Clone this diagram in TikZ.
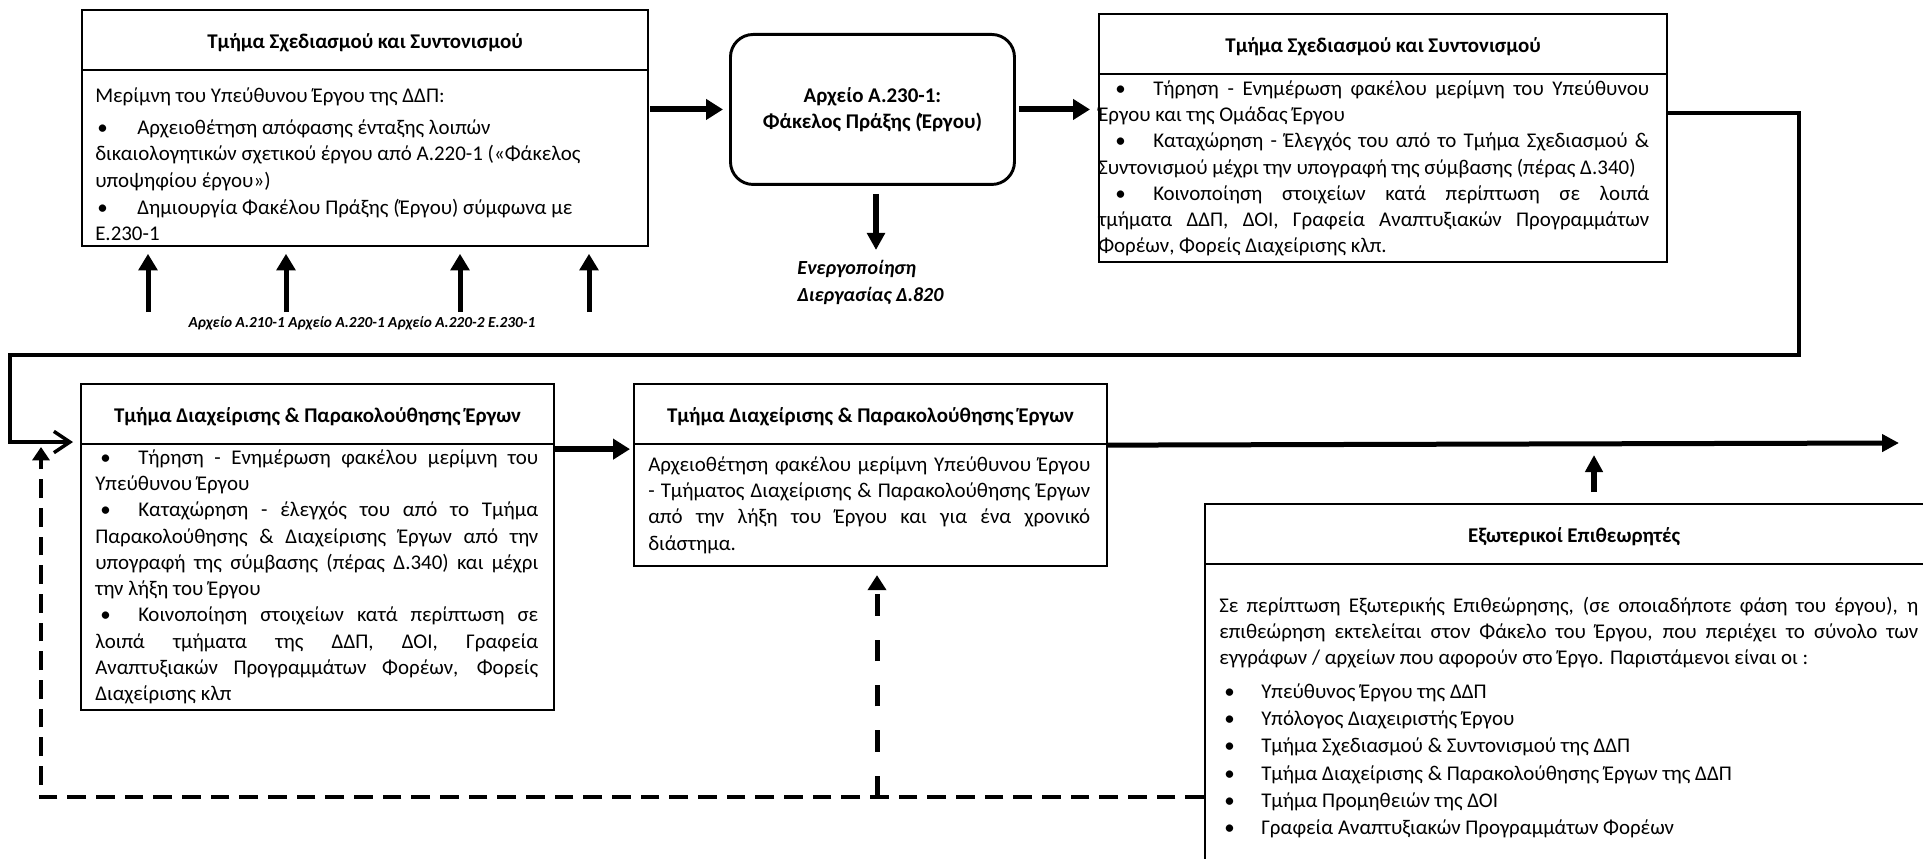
\documentclass[tikz,border=0pt]{standalone}
\usepackage{fontspec}
\setmainfont{Carlito}
\usetikzlibrary{arrows.meta}
\newcommand{\bfnt}{\fontsize{15.7pt}{19.7pt}\selectfont}
\newcommand{\hfnt}{\fontsize{15.7pt}{19.5pt}\selectfont\bfseries}
\newcommand{\bt}[2]{\makebox[#2][l]{\hspace*{#1}\textbullet}}
\newcommand{\jl}[1]{\hbox to\hsize{\strut#1}}
\newcommand{\nl}[1]{\hbox{\strut#1}}
\begin{document}
\begin{tikzpicture}[x=0.75pt,y=-0.75pt,
  frame/.style={draw,line width=1.6pt,anchor=north west,inner sep=0pt},
  hdr/.style={frame,align=center,font=\hfnt,text height=12.8pt,text depth=0pt},
  txt/.style={anchor=north west,inner sep=0pt,font=\bfnt},
  fat/.style={line width=4.5pt,-{Triangle[length=12.75pt,width=15pt]}},
  upar/.style={line width=3.75pt,-{Triangle[length=12.5pt,width=14pt]}},
  longar/.style={line width=3.75pt,-{Triangle[length=12.75pt,width=12.75pt]}},
  conn/.style={line width=2.6pt},
  dsh/.style={line width=3.5pt,dash pattern=on 14pt off 7.5pt},
  dshv/.style={line width=3.75pt,dash pattern=on 16pt off 18pt}]
\useasboundingbox (0,0) rectangle (1923,859);
\fill[white] (0,0) rectangle (1923,859);
\clip (0,0) rectangle (1923,859);

% ---------- Box 1
\node[hdr,minimum width=424.5pt,minimum height=45pt] (h1) at (81,9) {Τμήμα Σχεδιασμού και Συντονισμού};
\node[frame,minimum width=424.5pt,minimum height=132pt] (b1) at (81,69) {};
\node[txt] (t1) at (95,83.6) {\vtop{\hsize=400pt
\nl{Μερίμνη του Υπεύθυνου Έργου της ΔΔΠ:}
\vskip4.5pt
\nl{\bt{1.5pt}{31.5pt}Αρχειοθέτηση απόφασης ένταξης λοιπών}
\nl{δικαιολογητικών σχετικού έργου από Α.220-1 («Φάκελος}
\nl{υποψηφίου έργου»)}
\vskip1pt
\nl{\bt{1.5pt}{31.5pt}Δημιουργία Φακέλου Πράξης (Έργου) σύμφωνα με}
\nl{Ε.230-1}}};

% inputs below box 1
\foreach \xx/\nm in {148/u1,286/u2,460/u3,589/u4}{
  \coordinate (\nm) at (\xx,312);
  \draw[upar,shorten >=5pt] (\nm) -- (\nm |- b1.south);
}
\node[font=\fontsize{11.5pt}{13pt}\selectfont\bfseries\itshape,inner sep=0pt] (lbl) at (362,323) {Αρχείο Α.210-1 Αρχείο Α.220-1 Αρχείο Α.220-2 Ε.230-1};

% ---------- rounded box
\node[draw,line width=2.2pt,rounded corners=17pt,minimum width=213pt,minimum height=112.5pt,anchor=north west,align=center,font=\hfnt] (r) at (729,33) {Αρχείο Α.230-1:\\Φάκελος Πράξης (Έργου)};
\draw[fat,shorten <=1pt,shorten >=4.5pt] (b1.east |- r.west) -- (r.west);

% activation
\node[anchor=north west,inner sep=0pt,align=left,font=\fontsize{15pt}{20.25pt}\selectfont\bfseries\itshape] (act) at (797,255) {\strut Ενεργοποίηση\\Διεργασίας Δ.820};
\coordinate (dtip) at (876,250);
\draw[line width=4.5pt,-{Triangle[length=12.75pt,width=13pt]}] (r.south -| dtip) ++(0,8) -- (dtip);

% ---------- Box 3
\node[hdr,minimum width=426pt,minimum height=45pt] (h3) at (1098,13) {Τμήμα Σχεδιασμού και Συντονισμού};
\node[frame,minimum width=426pt,minimum height=141pt] (b3) at (1098,73) {};
\node[txt] (t3) at (1098,76.6) {\vtop{\hsize=413.25pt
\jl{\bt{12.75pt}{41.25pt}Τήρηση - Ενημέρωση φακέλου μερίμνη του Υπεύθυνου}
\nl{Έργου και της Ομάδας Έργου}
\jl{\bt{12.75pt}{41.25pt}Καταχώρηση - Έλεγχός του από το Τμήμα Σχεδιασμού \&}
\nl{Συντονισμού μέχρι την υπογραφή της σύμβασης (πέρας Δ.340)}
\jl{\bt{12.75pt}{41.25pt}Κοινοποίηση στοιχείων κατά περίπτωση σε λοιπά}
\jl{τμήματα ΔΔΠ, ΔΟΙ, Γραφεία Αναπτυξιακών Προγραμμάτων}
\nl{Φορέων, Φορείς Διαχείρισης κλπ.}}};
\draw[fat,shorten <=2.25pt,shorten >=6pt] (r.east) -- (h3.west |- r.east);

% ---------- Box 4
\node[hdr,minimum width=354.75pt,minimum height=45pt] (h4) at (80,383) {Τμήμα Διαχείρισης \& Παρακολούθησης Έργων};
\node[frame,minimum width=354.75pt,minimum height=199.5pt] (b4) at (80,443) {};
\node[txt] (t4) at (95,445.6) {\vtop{\hsize=332.25pt
\jl{\bt{3.75pt}{32.25pt}Τήρηση - Ενημέρωση φακέλου μερίμνη του}
\nl{Υπεύθυνου Έργου}
\jl{\bt{3.75pt}{32.25pt}Καταχώρηση - έλεγχός του από το Τμήμα}
\jl{Παρακολούθησης \& Διαχείρισης Έργων από την}
\jl{υπογραφή της σύμβασης (πέρας Δ.340) και μέχρι}
\nl{την λήξη του Έργου}
\jl{\bt{3.75pt}{32.25pt}Κοινοποίηση στοιχείων κατά περίπτωση σε}
\jl{λοιπά τμήματα της ΔΔΠ, ΔΟΙ, Γραφεία}
\jl{Αναπτυξιακών Προγραμμάτων Φορέων, Φορείς}
\nl{Διαχείρισης κλπ}}};

% connector from box 3 to box 4
\coordinate (k0) at (1799,113);
\coordinate (k1) at (1799,355);
\coordinate (k2) at (10,355);
\coordinate (k3) at (10,442);
\coordinate (k4) at (73,442);
\draw[conn,-{Straight Barb[length=12pt,width=16pt]}] (b3.east |- k0) -- (k0) -- (k1) -- (k2) -- (k3) -- (k4);

% ---------- Box 5
\node[hdr,minimum width=354.75pt,minimum height=45pt] (h5) at (633,383) {Τμήμα Διαχείρισης \& Παρακολούθησης Έργων};
\node[frame,minimum width=354.75pt,minimum height=91.5pt] (b5) at (633,443) {};
\node[txt] (t5) at (648,452.6) {\vtop{\hsize=331.5pt
\jl{Αρχειοθέτηση φακέλου μερίμνη Υπεύθυνου Έργου}
\jl{- Τμήματος Διαχείρισης \& Παρακολούθησης Έργων}
\jl{από την λήξη του Έργου και για ένα χρονικό}
\nl{διάστημα.}}};
\draw[fat,shorten >=2.25pt] ([yshift=-3pt]h4.south east) -- ([yshift=-3pt]h5.south west);

% long output arrow
\coordinate (rend) at (1899,443);
\draw[longar] (h5.south east) -- (rend);

% ---------- Box 6
\node[hdr,minimum width=553.5pt,minimum height=45pt] (h6) at (1204,503) {Εξωτερικοί Επιθεωρητές};
\node[frame,minimum width=553.5pt,minimum height=237.75pt] (b6) at (1204,563) {};
\node[txt] (t6) at (1219,593.6) {\vtop{\hsize=524.25pt
\jl{Σε περίπτωση Εξωτερικής Επιθεώρησης, (σε οποιαδήποτε φάση του έργου), η}
\jl{επιθεώρηση εκτελείται στον Φάκελο του Έργου, που περιέχει το σύνολο των}
\nl{εγγράφων / αρχείων που αφορούν στο Έργο. Παριστάμενοι είναι οι :}
\vskip4.5pt
\baselineskip=20.5pt
\nl{\bt{3.75pt}{31.5pt}Υπεύθυνος Έργου της ΔΔΠ}
\nl{\bt{3.75pt}{31.5pt}Υπόλογος Διαχειριστής Έργου}
\nl{\bt{3.75pt}{31.5pt}Τμήμα Σχεδιασμού \& Συντονισμού της ΔΔΠ}
\nl{\bt{3.75pt}{31.5pt}Τμήμα Διαχείρισης \& Παρακολούθησης Έργων της ΔΔΠ}
\nl{\bt{3.75pt}{31.5pt}Τμήμα Προμηθειών της ΔΟΙ}
\nl{\bt{3.75pt}{31.5pt}Γραφεία Αναπτυξιακών Προγραμμάτων Φορέων}}};
\coordinate (utip) at (1594,455);
\draw[line width=4.5pt,-{Triangle[length=12.75pt,width=12.75pt]}] (h6.north -| utip) ++(0,-11) -- (utip);

% ---------- dashed feedback
\coordinate (d1) at (41,797);
\coordinate (d2) at (41,447);
\coordinate (d3) at (877,797);
\draw[dsh,-{Triangle[length=10pt,width=12.75pt]}] (b6.west |- d1) -- (d1) -- (d2);
\draw[dshv,-{Triangle[length=11.25pt,width=13.5pt]},shorten >=6pt] (d3) -- (b5.south -| d3);
\end{tikzpicture}
\end{document}
